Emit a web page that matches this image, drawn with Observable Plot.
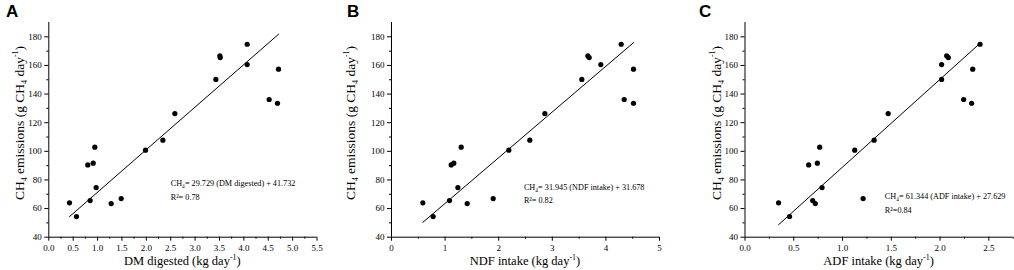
<!DOCTYPE html>
<html><head><meta charset="utf-8">
<script src="https://cdn.jsdelivr.net/npm/d3@7"></script>
<script src="https://cdn.jsdelivr.net/npm/@observablehq/plot@0.6"></script>
<style>
body{margin:0;background:#fff;}
#wrap{position:relative;width:1014px;height:270px;overflow:hidden;font-family:"Liberation Serif","DejaVu Serif",serif;color:#000;}
#wrap svg, #wrap svg text{font-family:"Liberation Serif","DejaVu Serif",serif !important;}
.panel{position:absolute;top:0;}
.letter{position:absolute;font-family:"Liberation Sans","DejaVu Sans",sans-serif;font-weight:bold;font-size:17px;line-height:17px;}
.xlab{position:absolute;font-size:12.5px;line-height:13px;text-align:center;white-space:nowrap;}
.ylab{position:absolute;font-size:13.5px;line-height:13px;white-space:nowrap;transform:translate(-50%,-50%) rotate(-90deg);}
sub,sup{font-size:8px;line-height:0;}
</style></head><body><div id="wrap"></div>
<script>
// CH4 emissions (g CH4 / day), one value per animal
const ch4 = [64.0, 54.4, 90.5, 91.7, 102.9, 74.7, 65.6, 63.5, 67.0, 100.8, 107.8, 126.4, 150.2, 166.7, 165.5, 174.8, 160.6, 136.2, 133.6, 157.4];
// predictors (kg / day), same animal order
const dmDigested = [0.425, 0.568, 0.800, 0.910, 0.944, 0.971, 0.848, 1.279, 1.484, 1.983, 2.339, 2.585, 3.426, 3.508, 3.515, 4.068, 4.068, 4.519, 4.690, 4.711];
const ndfIntake  = [0.585, 0.777, 1.113, 1.163, 1.300, 1.238, 1.082, 1.412, 1.897, 2.189, 2.581, 2.861, 3.551, 3.663, 3.688, 4.285, 3.905, 4.341, 4.515, 4.515];
const adfIntake  = [0.344, 0.457, 0.653, 0.742, 0.766, 0.790, 0.694, 0.721, 1.211, 1.125, 1.324, 1.468, 2.016, 2.068, 2.085, 2.410, 2.016, 2.242, 2.324, 2.335];

const panelLetters = ["A", "B", "C"];
const xLabels = ["DM digested", "NDF intake", "ADF intake"];
const slopes = [29.729, 31.945, 61.344];
const intercepts = [41.732, 31.678, 27.629];
const eqTexts = ["CH\u2084= 29.729 (DM digested) + 41.732", "CH\u2084= 31.945 (NDF intake) + 31.678", "CH\u2084= 61.344 (ADF intake) + 27.629"];
const r2Texts = ["R\u00b2= 0.78", "R\u00b2= 0.82", "R\u00b2=0.84"];

const yTicks = [40, 60, 80, 100, 120, 140, 160, 180];
const yMinorTicks = [50, 70, 90, 110, 130, 150, 170];
const xTicksA = [0, 0.5, 1, 1.5, 2, 2.5, 3, 3.5, 4, 4.5, 5, 5.5];
const xMinorA = [0.25, 0.75, 1.25, 1.75, 2.25, 2.75, 3.25, 3.75, 4.25, 4.75, 5.25];
const xTicksB = [0, 1, 2, 3, 4, 5];
const xMinorB = [0.5, 1.5, 2.5, 3.5, 4.5];
const xTicksC = [0, 0.5, 1, 1.5, 2, 2.5];
const xMinorC = [0.25, 0.75, 1.25, 1.75, 2.25, 2.75];

const serif = '"Liberation Serif","DejaVu Serif",serif';

const layout = [
  {left: 0,   ml: 48.3, mr: 21.5, xDomain: [0, 5.5],  ticks: xTicksA, minor: xMinorA, fmt: d3.format(".1f"), xs: dmDigested,
   eqX: 2.50, eqY1: 77.3, eqY2: 67.9, letterX: 6, ylabX: 19, ylabY: 123},
  {left: 338, ml: 53,   mr: 17,   xDomain: [0, 5],    ticks: xTicksB, minor: xMinorB, fmt: d3.format("d"),  xs: ndfIntake,
   eqX: 2.47, eqY1: 74.9, eqY2: 65.6, letterX: 347, ylabX: 350, ylabY: 123},
  {left: 676, ml: 68.5, mr: 1.3,  xDomain: [0, 2.75], ticks: xTicksC, minor: xMinorC, fmt: d3.format(".1f"), xs: adfIntake,
   eqX: 1.434, eqY1: 68.4, eqY2: 58.6, letterX: 699, ylabX: 716, ylabY: 123}
];

const wrap = document.getElementById("wrap");
const W = 338, H = 270, MT = 22, MB = 33.3;

layout.forEach((L, i) => {
  const pts = L.xs.map((x, k) => ({x, y: ch4[k]}));
  const ext = d3.extent(L.xs);
  const fit = ext.map(x => ({x, y: slopes[i] * x + intercepts[i]}));
  const chart = Plot.plot({
    width: W, height: H,
    marginLeft: L.ml, marginRight: L.mr, marginTop: MT, marginBottom: MB,
    style: {fontFamily: serif, fontSize: "9px", color: "#000", background: "transparent", overflow: "visible"},
    x: {domain: L.xDomain},
    y: {domain: [40, 190]},
    marks: [
      Plot.ruleY([40], {stroke: "#000", strokeWidth: 1}),
      Plot.ruleX([L.xDomain[0]], {stroke: "#000", strokeWidth: 1}),
      Plot.axisX({ticks: L.ticks, tickSize: 4, tickPadding: 3, tickFormat: L.fmt, label: null, fontSize: 9}),
      Plot.axisX({ticks: L.minor, tickSize: 2, tickFormat: () => "", label: null}),
      Plot.axisY({ticks: yTicks, tickSize: 4, tickPadding: 3, tickFormat: d3.format("d"), label: null, fontSize: 9}),
      Plot.axisY({ticks: yMinorTicks, tickSize: 2, tickFormat: () => "", label: null}),
      Plot.line(fit, {x: "x", y: "y", stroke: "#000", strokeWidth: 1}),
      Plot.dot(pts, {x: "x", y: "y", r: 2.6, fill: "#000", stroke: "none"}),
      Plot.text([eqTexts[i]], {x: L.eqX, y: L.eqY1, text: d => d, textAnchor: "start", fontSize: 8.2, fontFamily: serif}),
      Plot.text([r2Texts[i]], {x: L.eqX, y: L.eqY2, text: d => d, textAnchor: "start", fontSize: 8.2, fontFamily: serif})
    ]
  });
  chart.classList.add("panel");
  chart.style.left = L.left + "px";
  wrap.appendChild(chart);

  const letter = document.createElement("div");
  letter.className = "letter";
  letter.textContent = panelLetters[i];
  letter.style.left = L.letterX + "px";
  letter.style.top = "3px";
  wrap.appendChild(letter);

  const xl = document.createElement("div");
  xl.className = "xlab";
  xl.innerHTML = xLabels[i] + " (kg day<sup>-1</sup>)";
  const x0 = L.left + L.ml, x1 = L.left + W - L.mr;
  xl.style.left = x0 + "px";
  xl.style.width = (x1 - x0) + "px";
  xl.style.top = "255px";
  wrap.appendChild(xl);

  const yl = document.createElement("div");
  yl.className = "ylab";
  yl.innerHTML = "CH<sub>4</sub> emissions (g CH<sub>4</sub> day<sup>-1</sup>)";
  yl.style.left = L.ylabX + "px";
  yl.style.top = L.ylabY + "px";
  wrap.appendChild(yl);
});
</script></body></html>
